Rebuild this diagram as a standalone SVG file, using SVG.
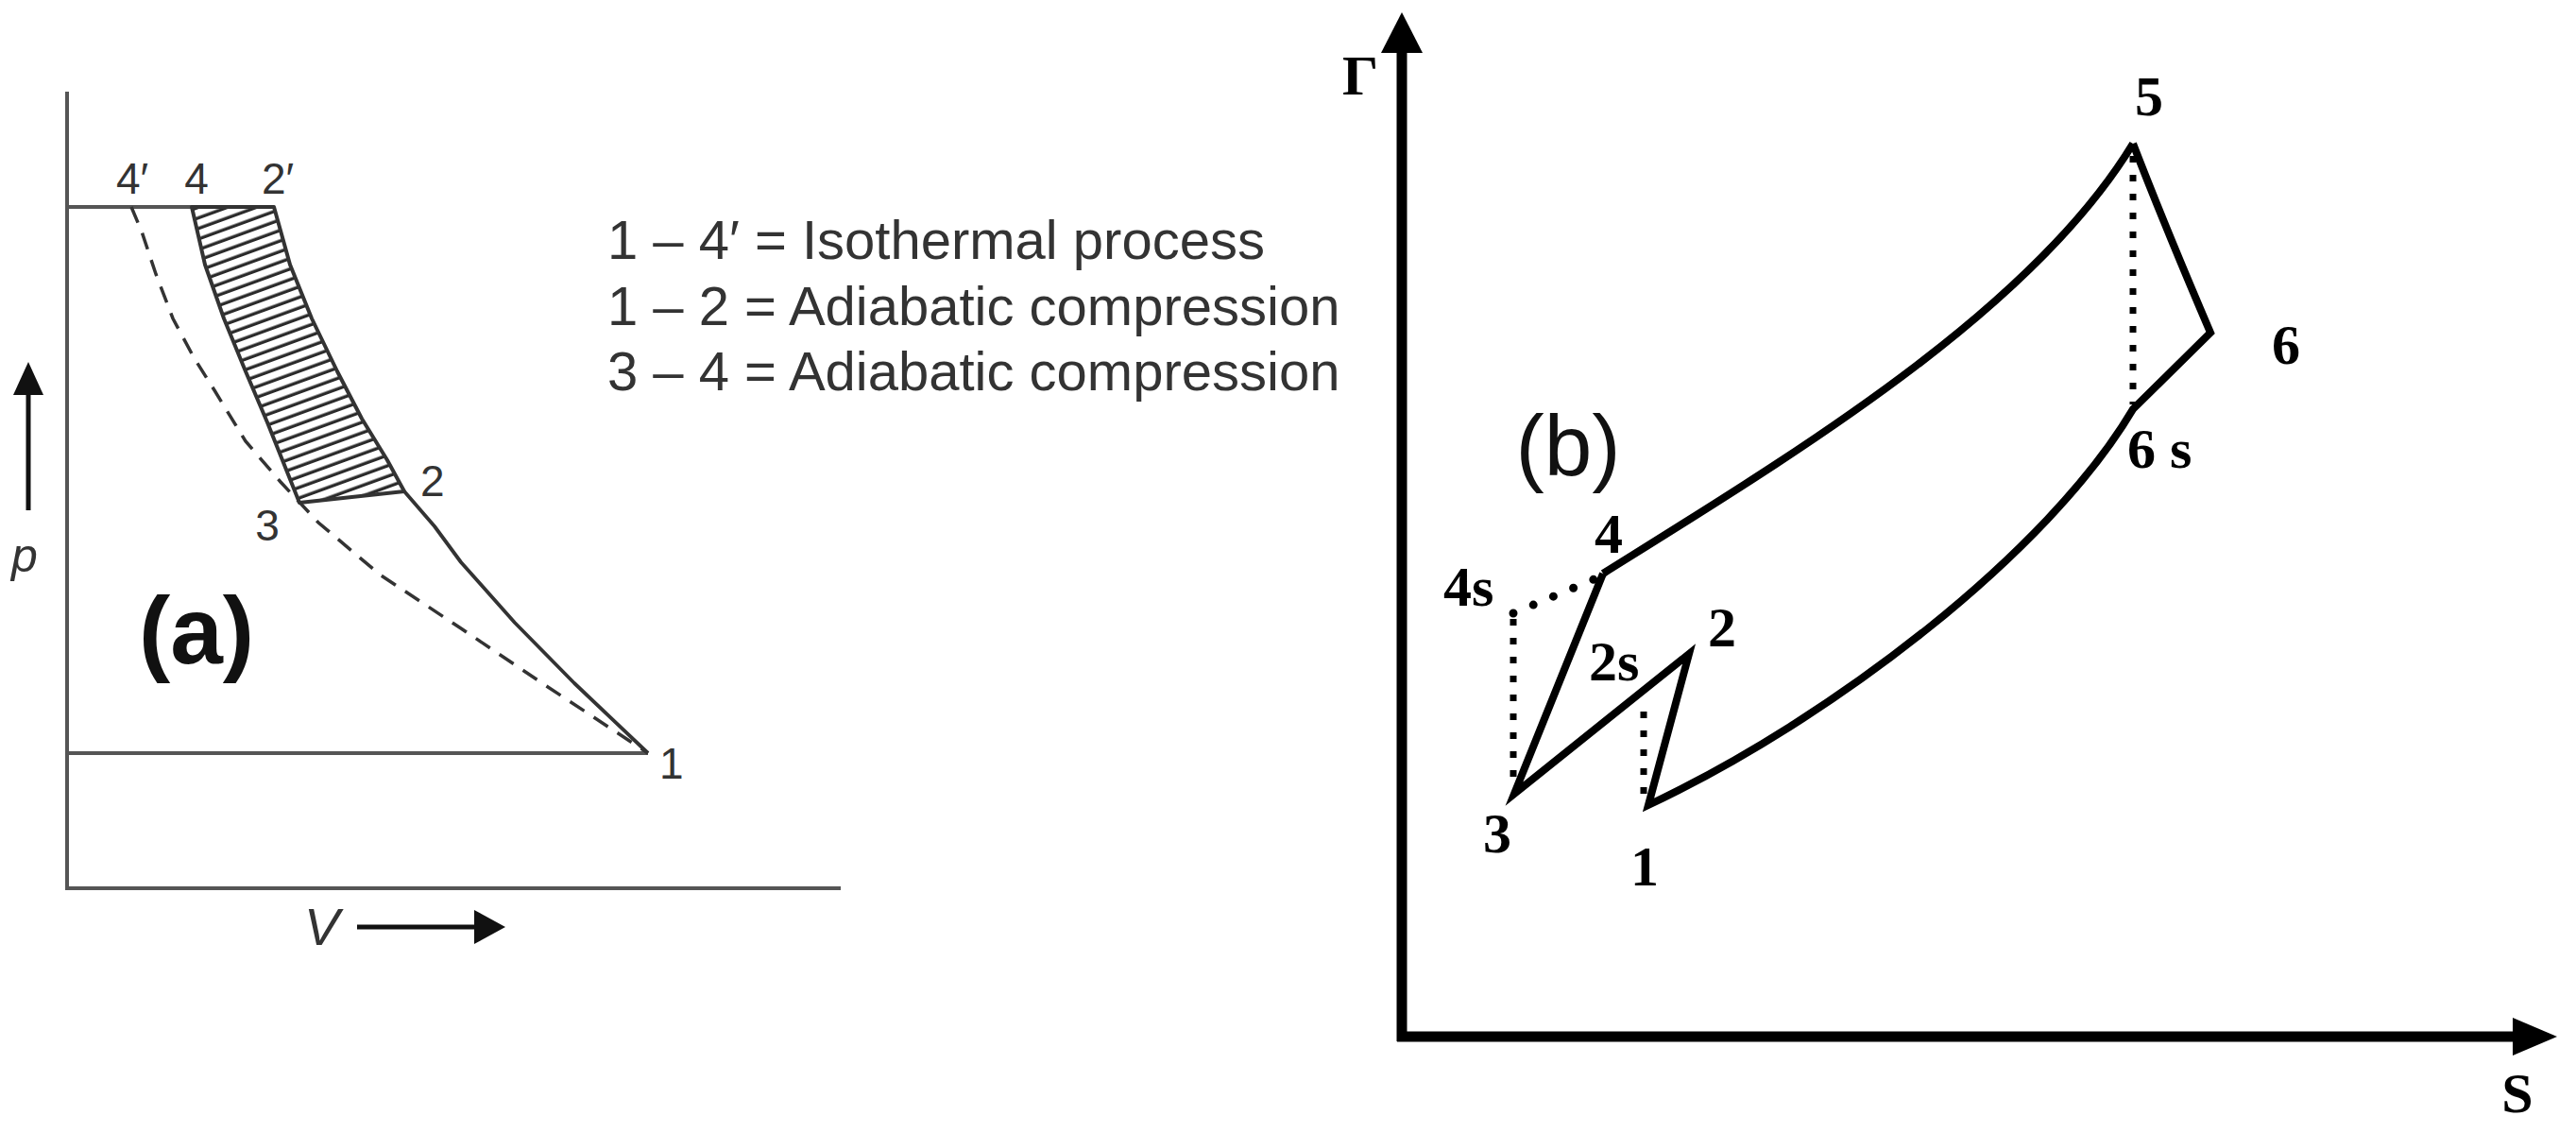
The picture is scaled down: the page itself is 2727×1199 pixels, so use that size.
<svg xmlns="http://www.w3.org/2000/svg" width="2727" height="1199" viewBox="0 0 2727 1199">
<style>
.ax{stroke:#555;stroke-width:4;fill:none}
.cv{stroke:#333;stroke-width:3.8;fill:none;stroke-linejoin:round}
.hz{stroke:#333;stroke-width:4;fill:url(#hatch);stroke-linejoin:round}
.dash{stroke:#333;stroke-width:3.5;fill:none;stroke-dasharray:18 12}
.la{font-family:"Liberation Sans",Arial,sans-serif;font-size:46px;fill:#333}
.lg{font-family:"Liberation Sans",Arial,sans-serif;font-size:58px;fill:#333}
.bx{stroke:#000;stroke-width:11;fill:none}
.bc{stroke:#000;stroke-width:8;fill:none;stroke-linejoin:miter}
.dot{stroke:#000;stroke-width:7;fill:none;stroke-dasharray:7 13}
.lb{font-family:"Liberation Serif","Times New Roman",serif;font-weight:bold;font-size:60px;fill:#000}
</style>
<defs>
<pattern id="hatch" patternUnits="userSpaceOnUse" width="40" height="10.5" patternTransform="rotate(-20)">
<rect width="40" height="10.5" fill="#fff"/>
<line x1="0" y1="5" x2="40" y2="5" stroke="#2a2a2a" stroke-width="3.3"/>
</pattern>
</defs>
<rect width="2727" height="1199" fill="#fff"/>

<g id="panel-a">
<g id="a-axes">
<line class="ax" x1="71" y1="97" x2="71" y2="940"/>
<line class="ax" x1="69" y1="940" x2="890" y2="940"/>
<line class="ax" x1="71" y1="219" x2="290" y2="219"/>
<line class="ax" x1="71" y1="797" x2="686" y2="797"/>
<line stroke="#111" stroke-width="5" x1="30" y1="540" x2="30" y2="412"/>
<polygon points="30,383 14,418 46,418" fill="#111"/>
<line stroke="#111" stroke-width="5" x1="378" y1="981" x2="505" y2="981"/>
<polygon points="535,981 502,963 502,999" fill="#111"/>
</g>
<g id="a-hatch">
<path class="hz" d="M203,219 L217,280 L237,337 L260,393 L283,447 L303,497 L317,532 L428,520 L410,487 L383,443 L357,393 L330,337 L307,280 L290,219 Z"/>
</g>
<g id="a-curves">
<path class="cv" d="M428,520 L460,557 L488,595 L545,659 L608,723 L686,797"/>
<path class="dash" d="M139,219 L150,245 L165,290 L183,337 L205,378 L227,413 L260,467 L297,510 L337,553 L402,608 L488,665 L574,723 L686,797"/>
</g>
<g id="a-labels">
<text class="la" x="140" y="205" text-anchor="middle">4′</text>
<text class="la" x="208" y="205" text-anchor="middle">4</text>
<text class="la" x="294" y="205" text-anchor="middle">2′</text>
<text class="la" x="445" y="525">2</text>
<text class="la" x="283" y="572" text-anchor="middle">3</text>
<text class="la" x="698" y="824">1</text>
<text font-family="Liberation Sans,Arial,sans-serif" font-style="italic" font-size="50" fill="#333" x="12" y="605">p</text>
<text font-family="Liberation Sans,Arial,sans-serif" font-style="italic" font-size="56" fill="#333" x="322" y="1000">V</text>
<text font-family="Liberation Sans,Arial,sans-serif" font-weight="bold" font-size="100" fill="#111" x="208" y="702" text-anchor="middle">(a)</text>
</g>
<g id="legend">
<text class="lg" x="643" y="274">1 – 4′ = Isothermal process</text>
<text class="lg" x="643" y="344">1 – 2 = Adiabatic compression</text>
<text class="lg" x="643" y="413">3 – 4 = Adiabatic compression</text>
</g>
</g>

<g id="panel-b">
<g id="b-axes">
<line class="bx" x1="1484" y1="50" x2="1484" y2="1102"/>
<line class="bx" x1="1479" y1="1097" x2="2665" y2="1097"/>
<polygon points="1484,13 1462,56 1506,56" fill="#000"/>
<polygon points="2707,1097 2660,1077 2660,1117" fill="#000"/>
<text class="lb" x="1421" y="100">Γ</text>
<text class="lb" x="2665" y="1177" text-anchor="middle" font-size="66">S</text>
</g>
<g id="connectors">
<path class="bc" d="M1697,607 C1900,480 2150,330 2258,152"/>
<path class="bc" d="M2258,152 Q2292,240 2340,352 L2258,433 C2168,585 1940,760 1745,852 L1788,692 L1603,840 L1697,607"/>
<line class="dot" x1="2258" y1="165" x2="2258" y2="428"/>
<line class="dot" x1="1602" y1="655" x2="1602" y2="832"/>
<line class="dot" x1="1740" y1="753" x2="1740" y2="846"/>
<line stroke="#000" stroke-width="9" stroke-linecap="round" stroke-dasharray="0 23" x1="1602" y1="649" x2="1690" y2="612"/>
</g>
<g id="node-1"><text class="lb" x="1741" y="937" text-anchor="middle">1</text></g>
<g id="node-2"><text class="lb" x="1808" y="684">2</text></g>
<g id="node-2s"><text class="lb" x="1682" y="720">2s</text></g>
<g id="node-3"><text class="lb" x="1585" y="902" text-anchor="middle">3</text></g>
<g id="node-4"><text class="lb" x="1703" y="585" text-anchor="middle">4</text></g>
<g id="node-4s"><text class="lb" x="1528" y="641">4s</text></g>
<g id="node-5"><text class="lb" x="2275" y="122" text-anchor="middle">5</text></g>
<g id="node-6"><text class="lb" x="2420" y="385" text-anchor="middle">6</text></g>
<g id="node-6s"><text class="lb" x="2252" y="495">6 s</text></g>
<text font-family="Liberation Sans,Arial,sans-serif" font-size="91" fill="#111" x="1660" y="503" text-anchor="middle">(b)</text>
</g>
</svg>
